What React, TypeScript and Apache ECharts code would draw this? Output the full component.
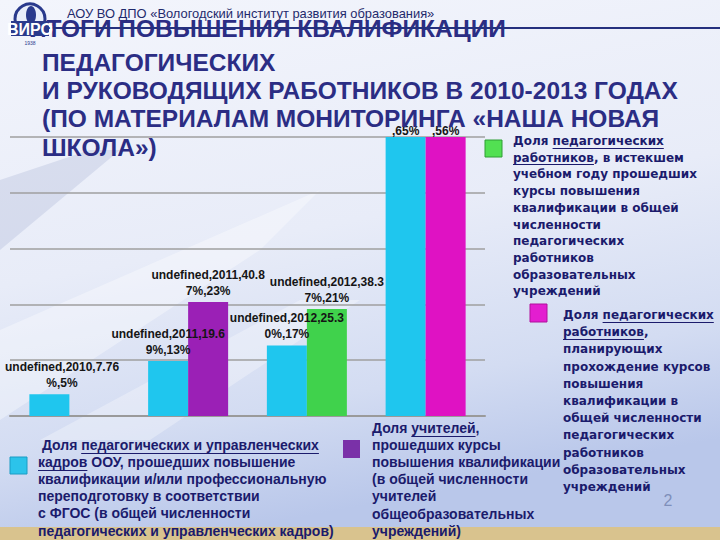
import React, { useEffect, useRef } from "react";
import * as echarts from "echarts";

// ---------- data ----------
const categories = ["2010", "2011", "2012", "2013"];
const cyanValues = [7.76, 19.69, 25.3, 100];
const cyanShares = [5, 13, 17, 65];
const purpleValues = [null, 40.87, null, null];
const purpleShares = [null, 23, null, null];
const greenValues = [null, null, 38.37, null];
const greenShares = [null, null, 21, null];
const magentaValues = [null, null, null, 100];
const magentaShares = [null, null, null, 56];
const yTicks = [0, 20, 40, 60, 80, 100];
const labelPrefix = "undefined";

const headerText = "АОУ ВО ДПО «Вологодский институт развития образования»";
const titleLines = [
  "ИТОГИ ПОВЫШЕНИЯ КВАЛИФИКАЦИИ",
  "ПЕДАГОГИЧЕСКИХ",
  "И РУКОВОДЯЩИХ РАБОТНИКОВ В 2010-2013 ГОДАХ",
  "(ПО МАТЕРИАЛАМ МОНИТОРИНГА «НАША НОВАЯ",
  "ШКОЛА»)",
];
const legendGreen = [
  "Доля педагогических",
  "работников, в истекшем",
  "учебном году прошедших",
  "курсы повышения",
  "квалификации в общей",
  "численности",
  "педагогических",
  "работников",
  "образовательных",
  "учреждений",
];
const legendMagenta = [
  "Доля педагогических",
  "работников,",
  "планирующих",
  "прохождение курсов",
  "повышения",
  "квалификации в",
  "общей численности",
  "педагогических",
  "работников",
  "образовательных",
  "учреждений",
];
const legendCyan = [
  " Доля педагогических и управленческих",
  "кадров ООУ, прошедших повышение",
  "квалификации и/или профессиональную",
  "переподготовку в соответствии",
  "с ФГОС (в общей численности",
  "педагогических и управленческих кадров)",
];
const legendPurple = [
  "Доля учителей,",
  "прошедших курсы",
  "повышения квалификации",
  "(в общей численности",
  "учителей",
  "общеобразовательных",
  "учреждений)",
];

const C_CYAN = "#1fc6ee";
const C_PURPLE = "#9b20b6";
const C_GREEN = "#40d24c";
const C_MAGENTA = "#df12c3";
const NAVY = "#1b1b6c";
const TITLE = "#2b2d84";
const Y_MAX = yTicks[yTicks.length - 1];

let measureCtx: CanvasRenderingContext2D | null = null;
function measure(text: string, font: string): number {
  if (!measureCtx) measureCtx = document.createElement("canvas").getContext("2d");
  if (!measureCtx) return text.length * 7;
  measureCtx.font = font;
  return measureCtx.measureText(text).width;
}

function textBlock(
  lines: string[],
  underline: Record<number, string>,
  x: number,
  y0: number,
  step: number,
  fontSize: number,
  family: string
) {
  const font = `bold ${fontSize}px ${family}`;
  const els: any[] = [];
  lines.forEach((line, i) => {
    const y = y0 + i * step;
    els.push({
      type: "text",
      x,
      y,
      z: 20,
      style: { text: line, font, fill: NAVY, textVerticalAlign: "middle", verticalAlign: "middle" },
    });
    const w = underline[i];
    if (w) {
      const idx = line.indexOf(w);
      const ux = x + measure(line.slice(0, idx), font);
      const uw = measure(w, font);
      const uy = Math.round(y + fontSize * 0.55) + 0.5;
      els.push({
        type: "line",
        z: 20,
        shape: { x1: ux, y1: uy, x2: ux + uw, y2: uy },
        style: { stroke: NAVY, lineWidth: 1 },
      });
    }
  });
  return els;
}

function fmt(v: number) {
  return v >= 100 ? String(v) : v.toFixed(2);
}

// label text "undefined,<year>,<value>%,<share>%" wrapped after 19 characters;
// for bars running past the top of the plot only the part below the title stays visible
function makeLabel(shares: (number | null)[]) {
  return (p: any) => {
    const s = `${labelPrefix},${categories[p.dataIndex]},${fmt(p.value)}%,${shares[p.dataIndex]}%`;
    if (p.value >= Y_MAX) return s.slice(19);
    return s.slice(0, 19) + "\n" + s.slice(19);
  };
}

function barData(values: (number | null)[]) {
  return values.map((v) =>
    v != null && v >= Y_MAX ? { value: v, label: { distance: 0, lineHeight: 12 } } : v
  );
}

const labelBase = {
  show: true,
  position: "top",
  distance: 3,
  fontFamily: "'Liberation Sans', Arial, sans-serif",
  fontWeight: "bold",
  fontSize: 12,
  lineHeight: 16,
  color: "#151515",
};

const keepInside = (params: any) => {
  const r = params.labelRect;
  if (r && r.x < 5) return { dx: 5 - r.x };
  return {};
};

export default function App() {
  const ref = useRef<HTMLDivElement>(null);
  useEffect(() => {
    if (!ref.current) return;
    const chart = echarts.init(ref.current, null, { renderer: "svg" });

    const graphics: any[] = [];
    graphics.push({
      type: "rect",
      z: -5,
      shape: { x: 0, y: 527, width: 720, height: 13 },
      style: { fill: "#d9c38e" },
    });
    graphics.push({
      type: "polygon",
      z: -5,
      shape: { points: [[0, 330], [0, 420], [260, 250], [320, 190]] },
      style: { fill: "rgba(255,255,255,0.35)" },
    });
    graphics.push({
      type: "polygon",
      z: -5,
      shape: { points: [[40, 440], [150, 440], [360, 300], [300, 300]] },
      style: { fill: "rgba(255,255,255,0.3)" },
    });
    graphics.push({
      type: "polygon",
      z: -5,
      shape: { points: [[0, 180], [0, 250], [120, 150], [90, 150]] },
      style: { fill: "rgba(150,165,205,0.25)" },
    });
    // title
    titleLines.forEach((t, i) => {
      graphics.push({
        type: "text",
        x: i === 0 ? 29 : 42,
        y: [28, 62, 90, 118, 147][i],
        z: 10,
        style: {
          text: t,
          font: "bold 24.5px 'Liberation Sans', Arial, sans-serif",
          fill: TITLE,
          textVerticalAlign: "middle",
          verticalAlign: "middle",
        },
      });
    });
    graphics.push({
      type: "line",
      z: 11,
      shape: { x1: 47, y1: 28, x2: 720, y2: 28 },
      style: { stroke: "#25307e", lineWidth: 2 },
    });
    // header
    graphics.push({
      type: "text",
      x: 67,
      y: 13,
      z: 10,
      style: {
        text: headerText,
        font: "12.9px 'Liberation Sans', Arial, sans-serif",
        fill: "#1f2a6c",
        textVerticalAlign: "middle",
        verticalAlign: "middle",
      },
    });
    // logo
    graphics.push({
      type: "circle",
      z: 12,
      shape: { cx: 30, cy: 19, r: 15 },
      style: { fill: "#e9eefa", stroke: "#2a3a8c", lineWidth: 3 },
    });
    graphics.push({
      type: "ellipse",
      z: 12,
      shape: { cx: 31, cy: 15, rx: 5, ry: 9 },
      style: { fill: "#2a3a8c" },
    });
    graphics.push({
      type: "rect",
      z: 12,
      shape: { x: 11, y: 21, width: 38, height: 15 },
      style: { fill: "#2a3a8c" },
    });
    graphics.push({
      type: "text",
      x: 30,
      y: 29,
      z: 13,
      style: {
        text: "ВИРО",
        font: "bold 16px 'Liberation Sans', Arial, sans-serif",
        fill: "#ffffff",
        textAlign: "center",
        align: "center",
        textVerticalAlign: "middle",
        verticalAlign: "middle",
      },
    });
    graphics.push({
      type: "text",
      x: 30,
      y: 43,
      z: 13,
      style: {
        text: "1938",
        font: "5px 'Liberation Sans', Arial, sans-serif",
        fill: "#2a3a8c",
        textAlign: "center",
        align: "center",
        textVerticalAlign: "middle",
        verticalAlign: "middle",
      },
    });
    // legend squares
    graphics.push({
      type: "rect",
      z: 20,
      shape: { x: 485, y: 140, width: 17, height: 17 },
      style: { fill: "#52e052", stroke: "#2f9e35", lineWidth: 1 },
    });
    graphics.push({
      type: "rect",
      z: 20,
      shape: { x: 530, y: 304, width: 17, height: 18 },
      style: { fill: "#e31ed0", stroke: "#b0109c", lineWidth: 1 },
    });
    graphics.push({
      type: "rect",
      z: 20,
      shape: { x: 10, y: 457, width: 17, height: 17 },
      style: { fill: "#2cc3ea", stroke: "#1a9cc4", lineWidth: 1 },
    });
    graphics.push({
      type: "rect",
      z: 20,
      shape: { x: 343, y: 440, width: 17, height: 18 },
      style: { fill: "#7a31a8" },
    });
    const dv = "'DejaVu Sans', Verdana, sans-serif";
    const ls = "'Liberation Sans', Arial, sans-serif";
    graphics.push(...textBlock(legendGreen, { 0: "педагогических", 1: "работников" }, 513, 141, 16.7, 12, dv));
    graphics.push(...textBlock(legendMagenta, { 0: "педагогических", 1: "работников" }, 563, 315, 17.2, 12, dv));
    graphics.push(
      ...textBlock(legendCyan, { 0: "педагогических и управленческих", 1: "кадров" }, 38, 445, 17.1, 14, ls)
    );
    graphics.push(...textBlock(legendPurple, { 0: "учителей" }, 372, 428, 17.1, 14, ls));
    graphics.push({
      type: "text",
      x: 668,
      y: 500,
      z: 10,
      style: {
        text: "2",
        font: "16px 'Liberation Sans', Arial, sans-serif",
        fill: "#7f8fba",
        textAlign: "center",
        align: "center",
        textVerticalAlign: "middle",
        verticalAlign: "middle",
      },
    });

    const barSeries = (name: string, values: (number | null)[], shares: (number | null)[], color: string, stack?: string) => ({
      type: "bar",
      name,
      stack,
      data: barData(values),
      barWidth: 40,
      barGap: "0%",
      itemStyle: { color },
      label: { ...labelBase, formatter: makeLabel(shares) },
      labelLayout: keepInside,
    });

    const option: any = {
      animation: false,
      backgroundColor: {
        type: "linear",
        x: 0,
        y: 0,
        x2: 0.25,
        y2: 1,
        colorStops: [
          { offset: 0, color: "#f3f5fc" },
          { offset: 0.5, color: "#e8ecf8" },
          { offset: 0.8, color: "#d3dcf2" },
          { offset: 1, color: "#b9c7ea" },
        ],
      },
      grid: { left: 10, right: 235, top: 137, bottom: 124, containLabel: false },
      xAxis: {
        type: "category",
        data: categories,
        axisLine: { lineStyle: { color: "#9a9a9a", width: 2 } },
        axisTick: { show: false },
        axisLabel: { show: false },
      },
      yAxis: {
        type: "value",
        min: yTicks[0],
        max: Y_MAX,
        interval: yTicks[1] - yTicks[0],
        axisLabel: { show: false },
        axisLine: { show: false },
        axisTick: { show: false },
        splitLine: { lineStyle: { color: "#9f9f9f", width: 1.5 } },
      },
      series: [
        barSeries("cyan", cyanValues, cyanShares, C_CYAN),
        barSeries("purple", purpleValues, purpleShares, C_PURPLE, "b"),
        barSeries("green", greenValues, greenShares, C_GREEN, "b"),
        barSeries("magenta", magentaValues, magentaShares, C_MAGENTA, "b"),
      ],
      graphic: graphics,
    };
    chart.setOption(option);
    return () => chart.dispose();
  }, []);
  return <div ref={ref} style={{ position: "fixed", left: 0, top: 0, width: 720, height: 540 }} />;
}
